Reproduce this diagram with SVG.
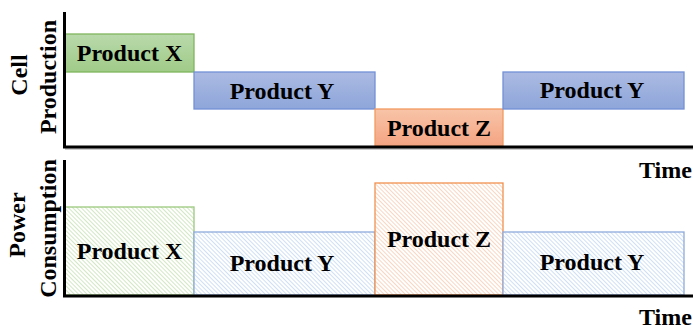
<svg xmlns="http://www.w3.org/2000/svg" width="693" height="329" viewBox="0 0 693 329">
<defs>
<linearGradient id="gG" x1="0" y1="0" x2="0" y2="1"><stop offset="0" stop-color="#b9d9ab"/><stop offset="1" stop-color="#a0cb88"/></linearGradient>
<linearGradient id="gB" x1="0" y1="0" x2="0" y2="1"><stop offset="0" stop-color="#abbae2"/><stop offset="1" stop-color="#8ea6da"/></linearGradient>
<linearGradient id="gO" x1="0" y1="0" x2="0" y2="1"><stop offset="0" stop-color="#f8c4a8"/><stop offset="1" stop-color="#f4a482"/></linearGradient>
<pattern id="hG" width="3" height="3" patternUnits="userSpaceOnUse" patternTransform="rotate(-45)"><rect width="3" height="3" fill="#fff"/><line x1="0" y1="0" x2="0" y2="3" stroke="#bcdba5" stroke-width="1.3"/></pattern>
<pattern id="hB" width="3" height="3" patternUnits="userSpaceOnUse" patternTransform="rotate(-45)"><rect width="3" height="3" fill="#fff"/><line x1="0" y1="0" x2="0" y2="3" stroke="#b6cff0" stroke-width="1.3"/></pattern>
<pattern id="hO" width="3" height="3" patternUnits="userSpaceOnUse" patternTransform="rotate(-45)"><rect width="3" height="3" fill="#fff"/><line x1="0" y1="0" x2="0" y2="3" stroke="#f7c0a0" stroke-width="1.3"/></pattern>
</defs>
<style>
text{font-family:"Liberation Serif","Times New Roman",serif;font-weight:bold;font-size:24px;fill:#000}
.c{text-anchor:middle}
.ax{stroke:#000;stroke-width:3;fill:none}
.sh{stroke:#bbb;stroke-width:1.5;fill:none}
.tg{fill:url(#gG);stroke:#7fb65c;stroke-width:1.3}
.tb{fill:url(#gB);stroke:#7391d6;stroke-width:1.3}
.to{fill:url(#gO);stroke:#f19a60;stroke-width:1.3}
.bg{fill:url(#hG);stroke:#9cc87e;stroke-width:1.3}
.bb{fill:url(#hB);stroke:#8fabdc;stroke-width:1.3}
.bo{fill:url(#hO);stroke:#f0914e;stroke-width:1.3}
</style>
<rect width="693" height="329" fill="#fff"/>
<g id="top-x"><rect class="tg" x="65" y="34" width="129" height="38"/><text class="c" x="129.5" y="61">Product X</text></g>
<g id="top-y1"><rect class="tb" x="194" y="72" width="181" height="37"/><text class="c" x="282" y="99">Product Y</text></g>
<g id="top-z"><rect class="to" x="375" y="109" width="128" height="37"/><text class="c" x="439" y="136">Product Z</text></g>
<g id="top-y2"><rect class="tb" x="503" y="72" width="181" height="37"/><text class="c" x="592" y="98">Product Y</text></g>
<g id="bot-x"><rect class="bg" x="65" y="207" width="129" height="88"/><text class="c" x="129.5" y="259">Product X</text></g>
<g id="bot-y1"><rect class="bb" x="194" y="232" width="181" height="63"/><text class="c" x="282" y="271">Product Y</text></g>
<g id="bot-z"><rect class="bo" x="375" y="183" width="128" height="112"/><text class="c" x="439" y="247">Product Z</text></g>
<g id="bot-y2"><rect class="bb" x="503" y="232" width="181" height="63"/><text class="c" x="592" y="270">Product Y</text></g>
<g id="axes">
<line class="sh" x1="65" y1="149" x2="693" y2="149"/>
<path class="ax" d="M64.5,12 V147 H693"/>
<path class="ax" d="M64.5,160 V296 H693"/>
</g>
<g id="labels">
<text class="c" transform="translate(27,75) rotate(-90)">Cell</text>
<text class="c" transform="translate(56,77) rotate(-90)">Production</text>
<text class="c" transform="translate(25,225) rotate(-90)">Power</text>
<text class="c" transform="translate(56,228.5) rotate(-90)">Consumption</text>
<text x="639" y="178">Time</text>
<text x="639" y="325">Time</text>
</g>
</svg>
